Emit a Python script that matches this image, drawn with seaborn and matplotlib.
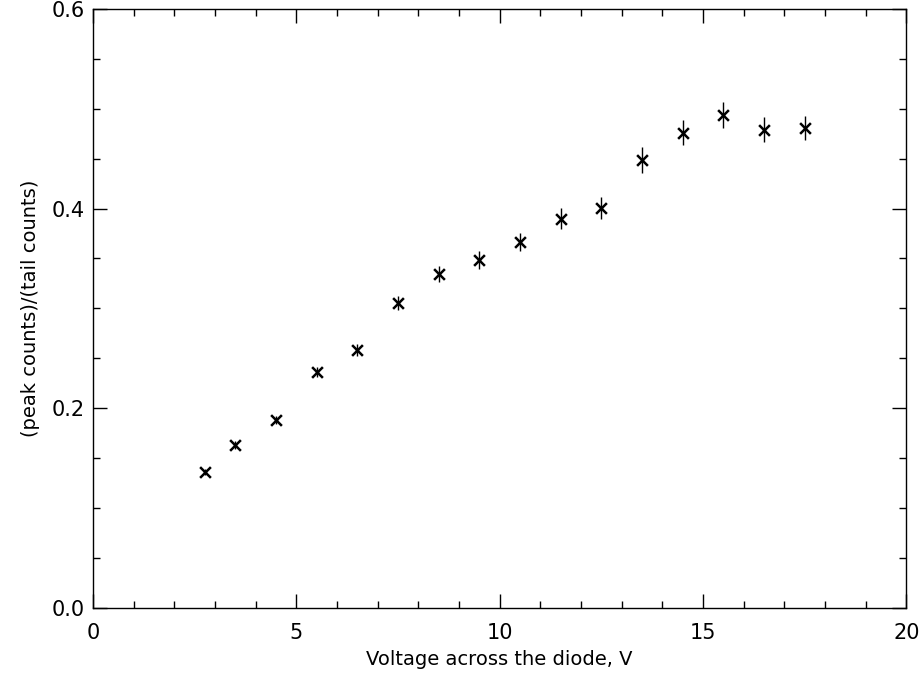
import matplotlib
matplotlib.use("Agg")
import matplotlib.pyplot as plt
import seaborn as sns
import pandas as pd
from matplotlib.ticker import MultipleLocator

# data
voltage = [2.75, 3.5, 4.5, 5.5, 6.5, 7.5, 8.5, 9.5, 10.5, 11.5, 12.5, 13.5, 14.5, 15.5, 16.5, 17.5]
ratio = [0.136, 0.163, 0.188, 0.236, 0.258, 0.305, 0.334, 0.348, 0.366, 0.390, 0.401, 0.449, 0.476, 0.494, 0.479, 0.481]
ratio_err = [0.003, 0.004, 0.004, 0.005, 0.006, 0.007, 0.008, 0.009, 0.009, 0.011, 0.011, 0.013, 0.0125, 0.013, 0.0125, 0.012]

df = pd.DataFrame({"voltage": voltage, "ratio": ratio, "err": ratio_err})

sns.set_style("ticks")
plt.rcParams["font.family"] = ["DejaVu Sans"]
plt.rcParams["text.color"] = "black"
plt.rcParams["axes.labelcolor"] = "black"

fig = plt.figure(figsize=(9.21, 6.77), dpi=100)
ax = fig.add_axes([0.101, 0.102, 0.883, 0.885])

# error bars first, then the x markers on top
ax.errorbar(df["voltage"], df["ratio"], yerr=df["err"], fmt="none",
            ecolor="black", elinewidth=1.0, capsize=0)
sns.scatterplot(data=df, x="voltage", y="ratio", marker="x", color="black",
                s=60, linewidth=1.8, ax=ax, zorder=3)

ax.set_xlim(0, 20)
ax.set_ylim(0, 0.6)
ax.xaxis.set_major_locator(MultipleLocator(5))
ax.xaxis.set_minor_locator(MultipleLocator(1))
ax.yaxis.set_major_locator(MultipleLocator(0.2))
ax.yaxis.set_minor_locator(MultipleLocator(0.05))
ax.yaxis.set_major_formatter(plt.FormatStrFormatter("%.1f"))

ax.tick_params(which="both", direction="in", top=True, right=True,
               colors="black", labelcolor="black", width=1.0)
ax.tick_params(which="major", length=10, labelsize=15)
ax.tick_params(axis="x", which="major", pad=11)
ax.tick_params(axis="y", which="major", pad=6)
ax.tick_params(which="minor", length=5)
for side in ax.spines.values():
    side.set_linewidth(1.0)
    side.set_color("black")

ax.set_xlabel("Voltage across the diode, V", fontsize=14, labelpad=5, color="black")
ax.set_ylabel("(peak counts)/(tail counts)", fontsize=14, labelpad=8, color="black")

fig.savefig("out.png", dpi=100)
